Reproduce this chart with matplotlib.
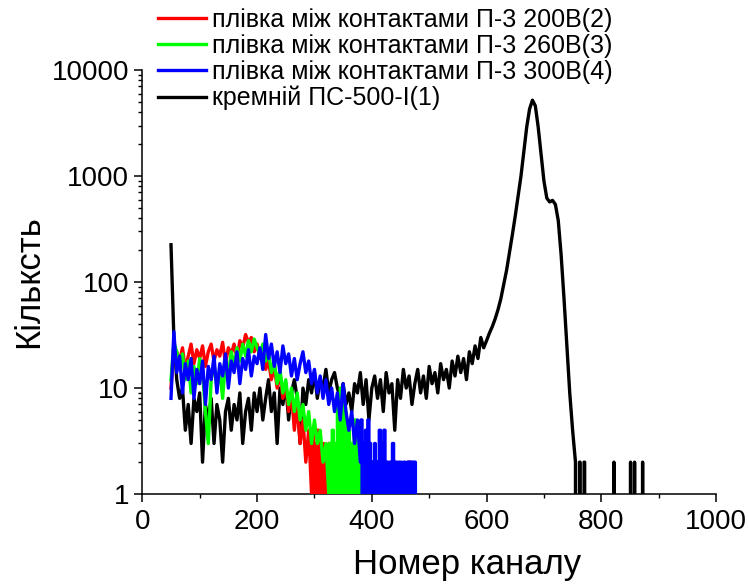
import numpy as np
import matplotlib
matplotlib.use("Agg")
import matplotlib.pyplot as plt
from matplotlib.ticker import LogLocator, MultipleLocator, NullFormatter

plt.rcParams['font.family'] = ['Liberation Sans', 'DejaVu Sans']

# channels of the sampled (continuous) parts, step 5
step = 5

# --- silicon reference (black), channels 50..755
black_start = 50
black_vals = [225, 30, 12, 8, 10, 4, 7, 3, 8, 6,
              9, 2, 7, 5, 8, 3, 7, 5, 2, 6,
              8, 4, 7, 5, 9, 3, 6, 8, 4, 9,
              6, 10, 5, 8, 12, 6, 9, 3, 10, 7,
              11, 5, 9, 12, 8, 3, 10, 7, 12, 9,
              14, 8, 12, 10, 15, 9, 12, 14, 10, 8,
              11, 7, 9, 6, 11, 9, 14, 7, 12, 5,
              10, 13, 8, 12, 6, 14, 9, 11, 4, 12,
              8, 15, 10, 13, 7, 11, 15, 9, 13, 8,
              16, 11, 14, 9, 17, 12, 15, 10, 18, 13,
              20, 14, 19, 12, 22, 17, 25, 19, 30, 24,
              28, 33, 38, 45, 55, 70, 95, 130, 190, 280,
              420, 650, 1000, 1700, 2900, 4300, 5200, 4600, 2900, 1600,
              900, 620, 570, 590, 540, 380, 180, 70, 25, 9,
              4, 2]
black_tail = (756, 880)
black_spike_start = [762, 770, 822, 851, 858, 872]
black_spike_end = [763, 771, 822, 851, 858, 872]
black_spike_val = [2, 2, 2, 2, 2, 2]

# --- film 200 V (red), channels 50..295
red_start = 50
red_vals = [10, 25, 22, 18, 24, 15, 20, 26, 17, 23,
            19, 25, 16, 22, 26, 18, 23, 20, 27, 17,
            24, 21, 26, 19, 28, 24, 32, 27, 30, 22,
            26, 19, 22, 15, 18, 12, 16, 10, 14, 8,
            11, 6, 9, 4, 7, 3, 5, 2, 4, 1]
red_tail = (296, 480)
red_spike_start = [296, 301, 305, 310, 314, 319, 325, 331, 337, 344, 350, 357, 416, 463]
red_spike_end = [298, 303, 307, 311, 316, 321, 327, 333, 339, 346, 354, 359, 419, 467]
red_spike_val = [4, 3, 4, 3, 3, 2, 3, 2, 2, 2, 3, 2, 3, 2]

# --- film 260 V (green), channels 50..325
green_start = 50
green_vals = [12, 27, 22, 17, 21, 12, 18, 9, 16, 11,
              19, 14, 6, 3, 12, 17, 10, 15, 8, 18,
              13, 22, 16, 24, 18, 26, 20, 28, 22, 29,
              24, 21, 26, 18, 22, 14, 18, 11, 15, 9,
              12, 7, 10, 6, 9, 5, 7, 4, 6, 3,
              5, 3, 4, 2, 3, 1]
green_tail = (326, 480)
green_spike_start = [326, 331, 335, 340, 345, 352, 358, 364, 369, 375,
                     380, 386, 392, 397, 403, 409, 414, 420]
green_spike_end = [328, 333, 337, 343, 349, 355, 361, 366, 372, 377,
                   383, 388, 394, 400, 406, 411, 417, 423]
green_spike_val = [3, 4, 3, 8, 10, 6, 4, 3, 5, 4,
                   3, 2, 3, 2, 2, 2, 2, 2]

# --- film 300 V (blue), channels 50..380
blue_start = 50
blue_vals = [8, 34, 14, 20, 9, 17, 12, 19, 8, 15,
             11, 18, 7, 16, 12, 20, 9, 17, 13, 21,
             10, 18, 14, 22, 11, 19, 15, 23, 13, 20,
             17, 24, 15, 32, 19, 26, 16, 22, 14, 25,
             17, 21, 13, 19, 12, 17, 22, 14, 18, 11,
             15, 9, 13, 8, 12, 7, 10, 6, 9, 5,
             11, 6, 4, 6, 3, 5, 2]
blue_tail = (381, 480)
blue_spike_start = [381, 385, 389, 393, 397, 401, 405, 409, 413, 417, 421,
                    426, 431, 436, 441, 446, 451, 456, 462, 466, 470, 474]
blue_spike_end = [383, 386, 390, 395, 398, 402, 406, 410, 415, 418, 423,
                  428, 433, 438, 443, 448, 452, 458, 464, 468, 472, 476]
blue_spike_val = [5, 3, 4, 5, 3, 2, 3, 2, 4, 3, 4,
                  2, 2, 3, 2, 2, 2, 2, 2, 2, 2, 2]

labels = ['плівка між контактами П-3 200В(2)',
          'плівка між контактами П-3 260В(3)',
          'плівка між контактами П-3 300В(4)',
          'кремній ПС-500-І(1)']
colors = ['#ff0000', '#00ff00', '#0000ff', '#000000']


def build(start, vals, tail, s_start, s_end, s_val):
    """Join the sampled part with a per-channel tail of sparse counts."""
    x1 = start + step * np.arange(len(vals))
    y1 = np.array(vals, dtype=float)
    x2 = np.arange(tail[0], tail[1] + 1)
    y2 = np.zeros(len(x2))
    for a, b, v in zip(s_start, s_end, s_val):
        y2[(x2 >= a) & (x2 <= b)] = v
    return np.concatenate([x1, x2]), np.concatenate([y1, y2])


series = [
    build(red_start, red_vals, red_tail, red_spike_start, red_spike_end, red_spike_val),
    build(green_start, green_vals, green_tail, green_spike_start, green_spike_end, green_spike_val),
    build(blue_start, blue_vals, blue_tail, blue_spike_start, blue_spike_end, blue_spike_val),
    build(black_start, black_vals, black_tail, black_spike_start, black_spike_end, black_spike_val),
]

fig = plt.figure(figsize=(7.49, 5.84), dpi=100)
ax = fig.add_axes([0.19, 0.154, 0.766, 0.726])

zorders = [3, 4, 5, 2]
lines = []
for (x, y), c, lab, z in zip(series, colors, labels, zorders):
    ln, = ax.plot(x, y, color=c, lw=2.4, label=lab, zorder=z)
    lines.append(ln)

ax.set_yscale('log', nonpositive='clip')
ax.set_xlim(0, 1000)
ax.set_ylim(1, 10000)
ax.set_yticks([1, 10, 100, 1000, 10000])
ax.set_yticklabels(['1', '10', '100', '1000', '10000'])
ax.yaxis.set_minor_locator(LogLocator(base=10, subs=np.arange(2, 10)))
ax.yaxis.set_minor_formatter(NullFormatter())
ax.set_xticks([0, 200, 400, 600, 800, 1000])
ax.xaxis.set_minor_locator(MultipleLocator(100))

for side in ['top', 'right']:
    ax.spines[side].set_visible(False)
for side in ['left', 'bottom']:
    ax.spines[side].set_linewidth(1.1)

ax.tick_params(which='major', direction='out', length=6, width=1.1, labelsize=20)
ax.tick_params(axis='x', which='major', pad=5)
ax.tick_params(which='minor', direction='out', length=3, width=1.0)

ax.set_xlabel('Номер каналу', fontsize=25)
ax.xaxis.set_label_coords(0.566, -0.128)
ax.set_ylabel('Кількcть', fontsize=25)
ax.yaxis.set_label_coords(-0.17, 0.5)

ax.legend(lines, labels, loc='upper left', bbox_to_anchor=(158 / 749, 1 - 8 / 584),
          bbox_transform=fig.transFigure, frameon=False, fontsize=18,
          handlelength=1.9, handletextpad=0.28, labelspacing=0.08, borderpad=0,
          borderaxespad=0)

fig.savefig('out.png', dpi=100)
